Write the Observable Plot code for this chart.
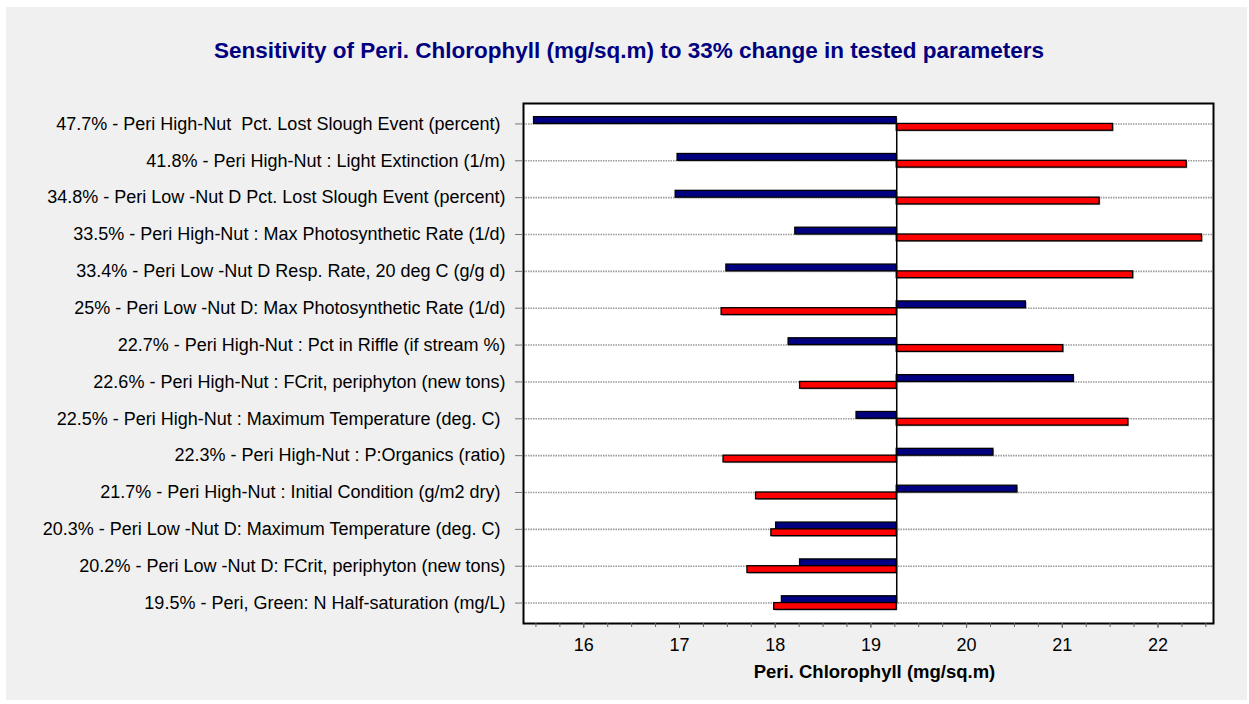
<!DOCTYPE html>
<html><head><meta charset="utf-8">
<script src="https://cdn.jsdelivr.net/npm/d3@7"></script>
<script src="https://cdn.jsdelivr.net/npm/@observablehq/plot@0.6"></script>
<style>
html,body{margin:0;padding:0;background:#fff;}
#page{position:relative;width:1249px;height:704px;overflow:hidden;font-family:"Liberation Sans",Arial,sans-serif;}
#panel{position:absolute;left:6px;top:7px;width:1241px;height:693px;background:#f0f0f0;}
#title{position:absolute;left:0;top:38px;width:1258px;text-align:center;font-weight:bold;font-size:22.5px;color:#000080;}
#chart{position:absolute;left:0;top:0;}
</style></head><body>
<div id="page"><div id="panel"></div><div id="title">Sensitivity of Peri. Chlorophyll (mg/sq.m) to 33% change in tested parameters</div><div id="chart"></div></div>
<script>
const parameters = [
  "47.7% - Peri High-Nut  Pct. Lost Slough Event (percent)\u00a0",
  "41.8% - Peri High-Nut : Light Extinction (1/m)",
  "34.8% - Peri Low -Nut D Pct. Lost Slough Event (percent)",
  "33.5% - Peri High-Nut : Max Photosynthetic Rate (1/d)",
  "33.4% - Peri Low -Nut D Resp. Rate, 20 deg C (g/g d)",
  "25% - Peri Low -Nut D: Max Photosynthetic Rate (1/d)",
  "22.7% - Peri High-Nut : Pct in Riffle (if stream %)",
  "22.6% - Peri High-Nut : FCrit, periphyton (new tons)",
  "22.5% - Peri High-Nut : Maximum Temperature (deg. C)\u00a0",
  "22.3% - Peri High-Nut : P:Organics (ratio)",
  "21.7% - Peri High-Nut : Initial Condition (g/m2 dry)\u00a0",
  "20.3% - Peri Low -Nut D: Maximum Temperature (deg. C)\u00a0",
  "20.2% - Peri Low -Nut D: FCrit, periphyton (new tons)",
  "19.5% - Peri, Green: N Half-saturation (mg/L)"
];
// blue series (-33%) and red series (+33%)
const minus33 = [15.48, 16.98, 16.96, 18.21, 17.49, 20.62, 18.14, 21.12, 18.85, 20.28, 20.53, 18.01, 18.26, 18.07];
const plus33  = [21.53, 22.30, 21.39, 22.46, 21.74, 17.44, 21.01, 18.26, 21.69, 17.46, 17.80, 17.96, 17.71, 17.99];
const baseline = 19.27;
const majorTicks = [16, 17, 18, 19, 20, 21, 22];
const minorTicks = d3.range(15.5, 22.51, 0.25);
const xLabel = "Peri. Chlorophyll (mg/sq.m)";

const rows = parameters.map((p, i) => ({parameter: p, minus: minus33[i], plus: plus33[i], base: baseline}));

const W = 1249, H = 704, mt = 103, mb = 81, ml = 523, mr = 36, inset = 2;
const step = (H - mt - mb - 2 * inset) / parameters.length;
const half = step / 2, barH = 6.8;

const chart = Plot.plot({
  width: W, height: H,
  marginTop: mt, marginBottom: mb, marginLeft: ml, marginRight: mr,
  style: {background: "transparent", fontFamily: "'Liberation Sans', Arial, sans-serif", fontSize: "18px", color: "#000", overflow: "visible"},
  x: {domain: [15.37, 22.58]},
  y: {domain: parameters, padding: 0, round: false, insetTop: inset, insetBottom: inset},
  marks: [
    Plot.frame({fill: "#fff", stroke: "none"}),
    Plot.ruleY(parameters, {y: d => d, stroke: "#9a9a9a", strokeWidth: 1.6, strokeDasharray: "1.5,1"}),
    // shadows
    Plot.barX(rows, {y: "parameter", x1: "base", x2: "minus", insetTop: half - barH, insetBottom: half, fill: "#b0b0b0", dx: 1.2, dy: 1.2}),
    Plot.barX(rows, {y: "parameter", x1: "base", x2: "plus", insetTop: half, insetBottom: half - barH, fill: "#b0b0b0", dx: 1.2, dy: 1.2}),
    // bars
    Plot.barX(rows, {y: "parameter", x1: "base", x2: "minus", insetTop: half - barH, insetBottom: half, fill: "#000080", stroke: "#000", strokeWidth: 1.3}),
    Plot.barX(rows, {y: "parameter", x1: "base", x2: "plus", insetTop: half, insetBottom: half - barH, fill: "#ff0000", stroke: "#000", strokeWidth: 1.3}),
    Plot.line([{x: baseline, y: parameters[0]}, {x: baseline, y: parameters[parameters.length - 1]}], {x: "x", y: "y", stroke: "#000", strokeWidth: 1.5}),
    Plot.frame({stroke: "#000", strokeWidth: 2}),
    Plot.axisY({anchor: "left", tickSize: 8, tickPadding: 10, stroke: "#777", fill: "#000", fontSize: 18, label: null}),
    Plot.axisX({ticks: minorTicks, tickSize: 4, tickFormat: () => "", stroke: "#666", label: null}),
    Plot.axisX({ticks: majorTicks, tickSize: 5, tickPadding: 10, stroke: "#666", fill: "#000", fontSize: 18, tickFormat: d => String(d), label: null}),
    Plot.text([xLabel], {text: d => d, frameAnchor: "bottom", dy: 54, dx: 6, fontWeight: "bold", fontSize: 18.5, fill: "#000"})
  ]
});
document.getElementById("chart").appendChild(chart);
</script>
</body></html>
